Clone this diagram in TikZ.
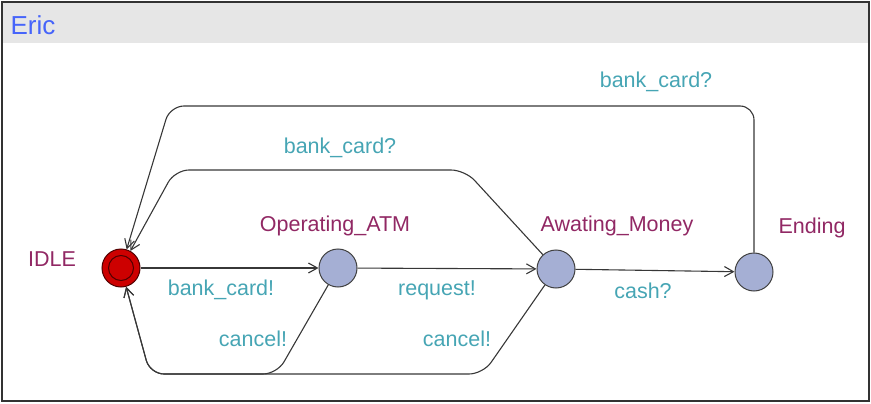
\documentclass[tikz,border=0pt]{standalone}
\usepackage{fontspec}
\setmainfont{Liberation Sans}
\usepackage{tikz}
\usetikzlibrary{arrows.meta,positioning}

\definecolor{loccol}{RGB}{145,40,100}
\definecolor{synccol}{RGB}{70,165,180}
\definecolor{statefill}{RGB}{165,175,212}
\definecolor{initfill}{RGB}{205,0,0}
\definecolor{initdraw}{RGB}{80,0,0}
\definecolor{headfill}{RGB}{230,230,230}
\definecolor{namecol}{RGB}{70,100,250}
\definecolor{edgecol}{RGB}{55,55,55}

\begin{document}
\begin{tikzpicture}[x=1pt, y=-1pt,
  state/.style={circle, draw=black!75, fill=statefill, line width=1pt,
                minimum size=38pt, inner sep=0pt},
  init/.style={state, fill=initfill, draw=initdraw},
  locname/.style={text=loccol, font=\fontsize{21.5}{25}\selectfont},
  sync/.style={text=synccol, font=\fontsize{21.5}{25}\selectfont},
  arr/.style={-{Straight Barb[length=9pt,width=10pt]}, draw=edgecol,
              line width=1.1pt, rounded corners=14pt}
]
  \useasboundingbox (0,0) rectangle (871,404);
  % frame and title bar
  \fill[headfill] (2,2) rectangle (869,43);
  \draw[black!80, line width=2pt] (2,2) rectangle (869,401);
  \node[anchor=west, text=namecol, font=\fontsize{26}{30}\selectfont] (title) at (7,25) {Eric};

  % locations
  \node[init]  (idle) at (121,268) {};
  \draw[initdraw, line width=1pt] (idle.center) circle[radius=12.5];
  \node[state] (op)   at (338,268) {};
  \node[state] (aw)   at (556,269) {};
  \node[state] (end)  at (754,272) {};

  \node[locname] (idlename) at (52,259)  {IDLE};
  \node[locname] (opname)   at (335,226) {Operating\_ATM};
  \node[locname] (awname)   at (617,226) {Awating\_Money};
  \node[locname] (endname)  at (812,228) {Ending};

  % bend points
  \coordinate (outerR) at (754,106);
  \coordinate (outerL) at (170,106);
  \coordinate (innerR) at (465,170);
  \coordinate (innerL) at (175,170);
  \coordinate (lowL)   at (150,374);
  \coordinate (lowOp)  at (277,374);
  \coordinate (lowAw)  at (483,374);

  % edges
  \draw[arr] (idle) -- (op);
  \draw[arr] (op) -- (aw);
  \draw[arr] (aw) -- (end);
  \draw[arr] (end) -- (outerR) -- (outerL) -- (idle);
  \draw[arr] (aw) -- (innerR) -- (innerL) -- (idle);
  \draw[arr] (op) -- (lowOp) -- (lowL) -- (idle);
  \draw[arr] (aw) -- (lowAw) -- (lowL) -- (idle);

  % edge labels
  \node[sync] (l1) at (221,290) {bank\_card!};
  \node[sync] (l2) at (437,290) {request!};
  \node[sync] (l3) at (643,291) {cash?};
  \node[sync] (l4) at (656,82)  {bank\_card?};
  \node[sync] (l5) at (340,148) {bank\_card?};
  \node[sync] (l6) at (253,339) {cancel!};
  \node[sync] (l7) at (457,339) {cancel!};
\end{tikzpicture}
\end{document}
